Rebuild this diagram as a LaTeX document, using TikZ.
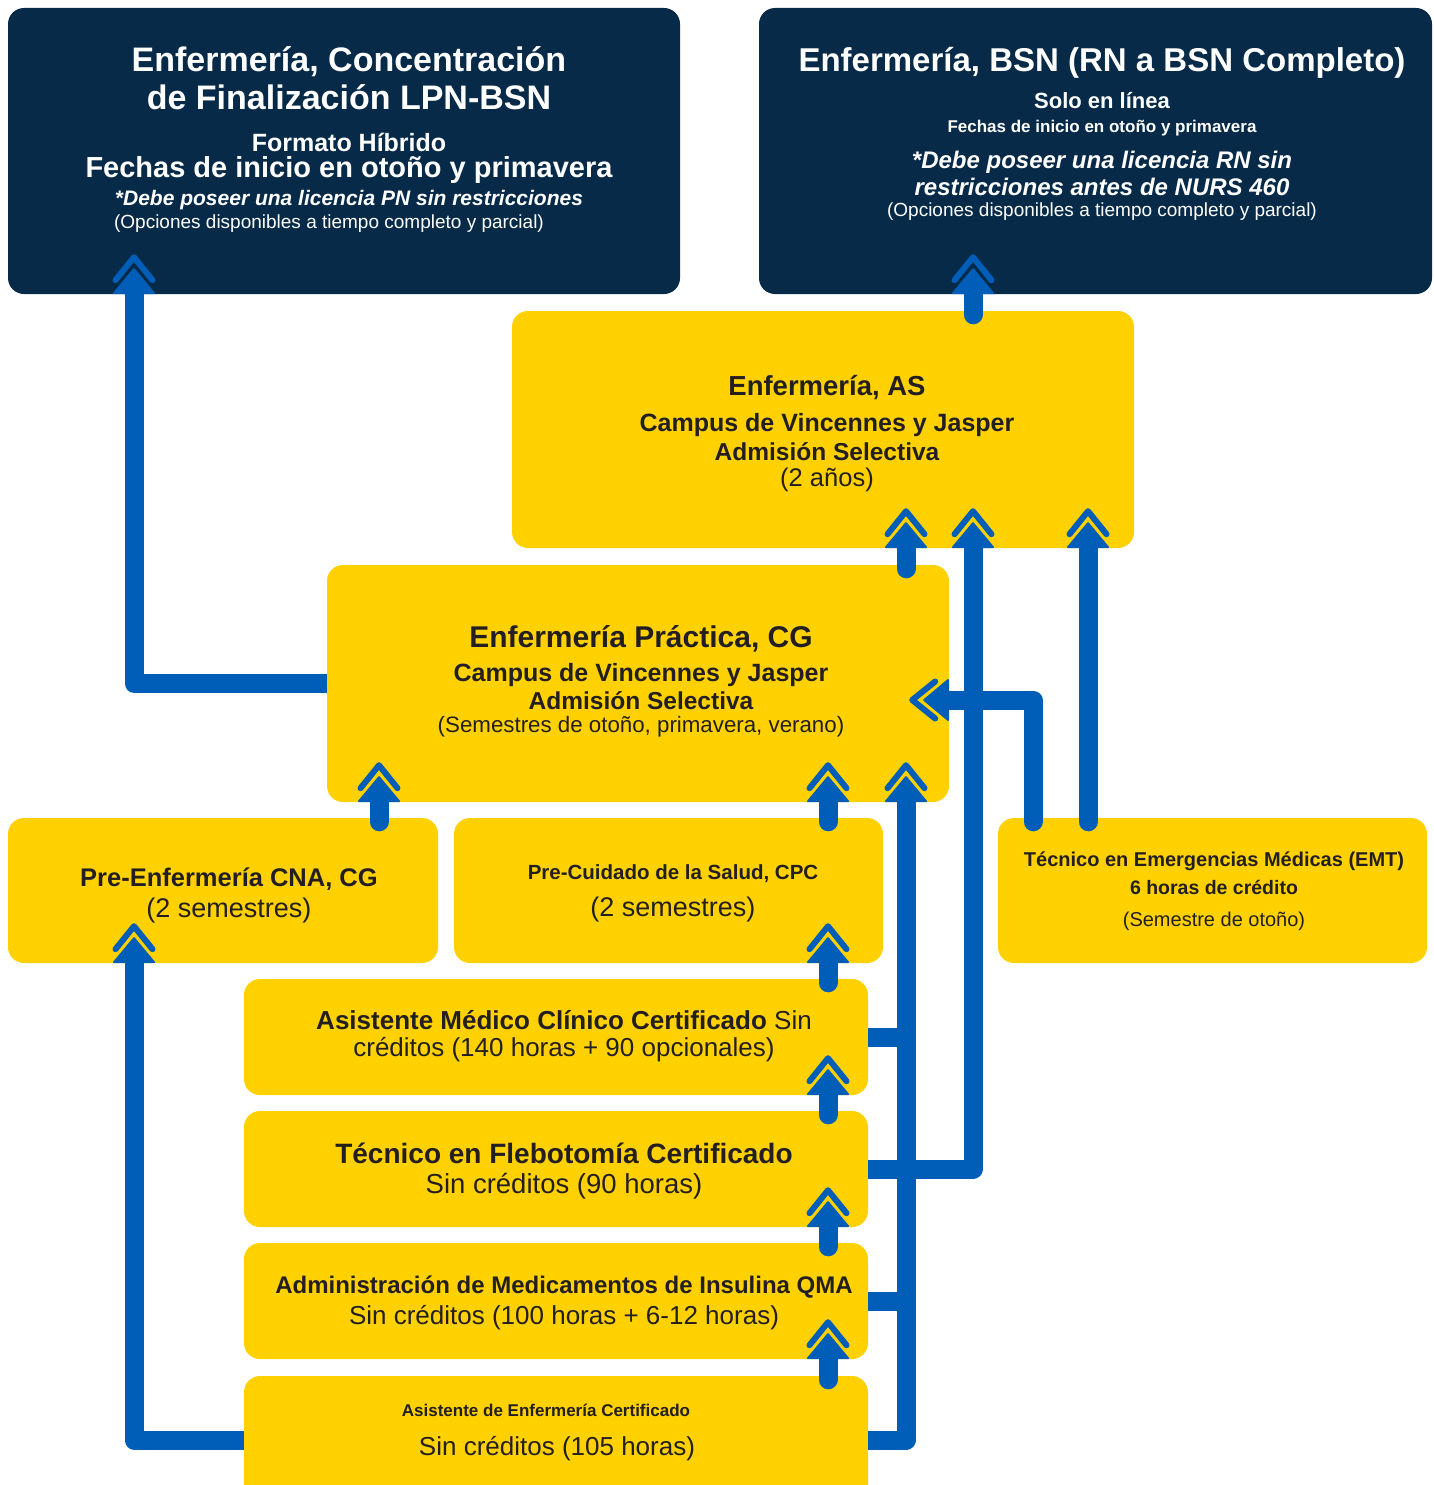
\documentclass[tikz,border=0pt]{standalone}
\usepackage{fontspec}
\setmainfont{Liberation Sans}
\usetikzlibrary{arrows.meta,calc}

\definecolor{vunavy}{HTML}{062A47}
\definecolor{vugold}{HTML}{FFD100}
\definecolor{flowblue}{HTML}{005EB8}
\definecolor{inkdark}{HTML}{231F20}

% font size in px (1px = 1pt here), no baselineskip
\newcommand\pxsize[1]{\fontsize{#1}{0}\selectfont}
\newcommand\tightlines{\baselineskip=0pt\lineskiplimit=-\maxdimen\relax}

% filled head with a chevron in front of it
\pgfdeclarearrow{
  name = DoubleChevron,
  setup code = {
    \pgfarrowssettipend{0pt}
    \pgfarrowssetlineend{-31pt}
    \pgfarrowssetbackend{-40pt}
    \pgfarrowsupperhullpoint{0pt}{0pt}
    \pgfarrowsupperhullpoint{-40pt}{21pt}
  },
  drawing code = {
    \pgfsetfillcolor{flowblue}\pgfsetstrokecolor{flowblue}
    \pgfsetroundjoin
    \pgfsetlinewidth{2pt}
    \pgfpathmoveto{\pgfqpoint{-39pt}{20pt}}
    \pgfpathlineto{\pgfqpoint{-15pt}{0pt}}
    \pgfpathlineto{\pgfqpoint{-39pt}{-20pt}}
    \pgfpathclose
    \pgfusepathqfillstroke
    \pgfsetlinewidth{6pt}
    \pgfsetroundcap
    \pgfpathmoveto{\pgfqpoint{-26pt}{18.5pt}}
    \pgfpathlineto{\pgfqpoint{-3pt}{0pt}}
    \pgfpathlineto{\pgfqpoint{-26pt}{-18.5pt}}
    \pgfusepathqstroke
  }
}

\tikzset{
  navybox/.style={rectangle, rounded corners=16pt, fill=vunavy, inner sep=0pt},
  goldbox/.style={rectangle, rounded corners=16pt, fill=vugold, inner sep=0pt},
  navytext/.style={align=center, inner sep=0pt, text=white, font=\tightlines},
  goldtext/.style={align=center, inner sep=0pt, text=inkdark, font=\tightlines},
  flow/.style={draw=flowblue, line width=19pt, line cap=round, line join=round, -{DoubleChevron[]}},
  flowside/.style={flow, line cap=butt},
  feed/.style={draw=flowblue, line width=19pt, line cap=butt}
}

\begin{document}
\begin{tikzpicture}[x=1pt, y=-1pt]
    \useasboundingbox (0,0) rectangle (1433,1485);

    % Top programmes
    \node[navybox, minimum width=672pt, minimum height=286pt] (lpn) at (344,151) {};
    \node[navybox, minimum width=673pt, minimum height=286pt] (bsn) at (1095.5,151) {};

    % Degrees and certificates
    \node[goldbox, minimum width=622pt, minimum height=237pt] (as) at (823,429.5) {};
    \node[goldbox, minimum width=622pt, minimum height=237pt] (pn) at (638,683.5) {};
    \node[goldbox, minimum width=430pt, minimum height=145pt] (cnap) at (223,890.5) {};
    \node[goldbox, minimum width=429pt, minimum height=145pt] (cpc) at (668.5,890.5) {};
    \node[goldbox, minimum width=429pt, minimum height=145pt] (emt) at (1212.5,890.5) {};
    \node[goldbox, minimum width=624pt, minimum height=116pt] (ccma) at (556,1037) {};
    \node[goldbox, minimum width=624pt, minimum height=116pt] (phleb) at (556,1169) {};
    \node[goldbox, minimum width=624pt, minimum height=116pt] (qma) at (556,1301) {};
    \node[goldbox, minimum width=624pt, minimum height=128pt] (cnac) at (556,1440) {};

    % Texts
    \node[navytext] (lpnText) at (349,140) {%
        {\pxsize{34}\bfseries Enfermería, Concentración}\\[38pt]
        {\pxsize{34}\bfseries de Finalización LPN-BSN}\\[42pt]
        {\pxsize{25}\bfseries Formato Híbrido}\\[25.5pt]
        {\pxsize{29}\bfseries Fechas de inicio en otoño y primavera}\\[28pt]
        {\pxsize{21}\bfseries\itshape *Debe poseer una licencia PN sin restricciones}\hspace*{20pt}\\[23.5pt]
        {\pxsize{19}(Opciones disponibles a tiempo completo y parcial)}\hspace*{40pt}};
    \node[navytext] (bsnText) at (1102,134) {%
        {\pxsize{33}\bfseries Enfermería, BSN (RN a BSN Completo)}\\[37pt]
        {\pxsize{22}\bfseries Solo en línea}\\[24pt]
        {\pxsize{17}\bfseries Fechas de inicio en otoño y primavera}\\[35.5pt]
        {\pxsize{24}\bfseries\itshape *Debe poseer una licencia RN sin}\\[27pt]
        {\pxsize{24}\bfseries\itshape restricciones antes de NURS 460}\\[21.5pt]
        {\pxsize{19}(Opciones disponibles a tiempo completo y parcial)}};
    \node[goldtext] (asText) at (827,434) {%
        {\pxsize{27.5}\bfseries Enfermería, AS}\\[36pt]
        {\pxsize{25}\bfseries Campus de Vincennes y Jasper}\\[29pt]
        {\pxsize{24.5}\bfseries Admisión Selectiva}\\[26pt]
        {\pxsize{25.5}(2 años)}};
    \node[goldtext] (pnText) at (641,681.5) {%
        {\pxsize{30}\bfseries Enfermería Práctica, CG}\\[34pt]
        {\pxsize{25}\bfseries Campus de Vincennes y Jasper}\\[28pt]
        {\pxsize{24.5}\bfseries Admisión Selectiva}\\[23pt]
        {\pxsize{22.3}(Semestres de otoño, primavera, verano)}};
    \node[goldtext] (cnapText) at (229,895) {%
        {\pxsize{25.5}\bfseries Pre-Enfermería CNA, CG}\\[31pt]
        {\pxsize{27}(2 semestres)}};
    \node[goldtext] (cpcText) at (673,893.5) {%
        {\pxsize{20.5}\bfseries Pre-Cuidado de la Salud, CPC}\\[37pt]
        {\pxsize{27}(2 semestres)}};
    \node[goldtext] (emtText) at (1214,891.5) {%
        {\pxsize{20}\bfseries Técnico en Emergencias Médicas (EMT)}\\[28pt]
        {\pxsize{19.5}\bfseries 6 horas de crédito}\\[32pt]
        {\pxsize{20}(Semestre de otoño)}};
    \node[goldtext] (ccmaText) at (564,1036.5) {%
        {\pxsize{26}\textbf{Asistente Médico Clínico Certificado} Sin}\\[27pt]
        {\pxsize{26}créditos (140 horas + 90 opcionales)}};
    \node[goldtext] (phlebText) at (564,1171.5) {%
        {\pxsize{28}\bfseries Técnico en Flebotomía Certificado}\\[30pt]
        {\pxsize{27.5}Sin créditos (90 horas)}};
    \node[goldtext] (qmaText) at (564,1302.5) {%
        {\pxsize{24}\bfseries Administración de Medicamentos de Insulina QMA}\\[31pt]
        {\pxsize{26}Sin créditos (100 horas + 6-12 horas)}};
    \node[goldtext] (cnacText) at (546,1432) {%
        {\pxsize{17}\bfseries Asistente de Enfermería Certificado}\\[39pt]
        \hspace*{22pt}{\pxsize{26}Sin créditos (105 horas)}};

    % Lanes
    \coordinate (laneL) at (134,0);
    \coordinate (lanePre) at (379,0);
    \coordinate (laneM) at (828,0);
    \coordinate (laneAS) at (906,0);
    \coordinate (lanePh) at (973,0);
    \coordinate (laneE1) at (1033,0);
    \coordinate (laneE2) at (1088,0);

    % Connectors
    \draw[flowside] (pn.west) -| ([yshift=40pt]lpn.south -| laneL);
    \draw[flowside] (cnac.west) -| ([yshift=40pt]cnap.south -| laneL);
    \draw[flow] ([yshift=-4pt]as.north -| lanePh) -- ([yshift=40pt]bsn.south -| lanePh);
    \draw[flow] ([yshift=-4pt]pn.north -| laneAS) -- ([yshift=40pt]as.south -| laneAS);
    \draw[flow] ([yshift=-4pt]emt.north -| laneE2) -- ([yshift=40pt]as.south -| laneE2);
    \draw[flow] ([yshift=-4pt]emt.north -| laneE1) |- ([xshift=-40pt,yshift=-16.5pt]pn.east);
    \draw[flow] ([yshift=-4pt]cnap.north -| lanePre) -- ([yshift=40pt]pn.south -| lanePre);
    \draw[flow] ([yshift=-4pt]cpc.north -| laneM) -- ([yshift=40pt]pn.south -| laneM);
    \draw[flow] ([yshift=-4pt]ccma.north -| laneM) -- ([yshift=40pt]cpc.south -| laneM);
    \draw[flow] ([yshift=-4pt]phleb.north -| laneM) -- ([yshift=40pt]ccma.south -| laneM);
    \draw[flow] ([yshift=-4pt]qma.north -| laneM) -- ([yshift=40pt]phleb.south -| laneM);
    \draw[flow] ([yshift=-4pt]cnac.north -| laneM) -- ([yshift=40pt]qma.south -| laneM);
    \draw[flowside] (phleb.east) -| ([yshift=40pt]as.south -| lanePh);
    \draw[flowside] (cnac.east) -| ([yshift=40pt]pn.south -| laneAS);
    \draw[feed] (ccma.east) -- (ccma.east -| laneAS);
    \draw[feed] (qma.east) -- (qma.east -| laneAS);
\end{tikzpicture}
\end{document}
